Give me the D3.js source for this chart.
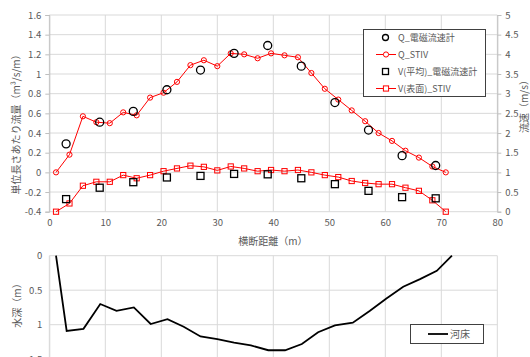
<!DOCTYPE html>
<html>
<head>
<meta charset="utf-8">
<script src="https://cdn.jsdelivr.net/npm/d3@7"></script>
<style>
  body { margin: 0; background: #fff; }
  text { font-family: "Noto Sans CJK JP", "Noto Sans", sans-serif; fill: #595959; }
</style>
</head>
<body>
<div id="chart"></div>
<script>
// measured stations (m)
const emX = [3, 9, 15, 21, 27, 33, 39, 45, 51, 57, 63, 69];
const emQ = [0.29, 0.51, 0.62, 0.84, 1.04, 1.21, 1.29, 1.08, 0.71, 0.43, 0.17, 0.07];
const emV = [0.32, 0.61, 0.75, 0.87, 0.91, 0.96, 0.95, 0.85, 0.70, 0.53, 0.37, 0.34];

// STIV stations (m)
const stivX = [1.2, 3.6, 6.0, 8.4, 10.8, 13.2, 15.6, 18.0, 20.4, 22.8, 25.2, 27.6, 30.0, 32.4, 34.8,
               37.2, 39.6, 42.0, 44.4, 46.8, 49.2, 51.6, 54.0, 56.4, 58.8, 61.2, 63.6, 66.0, 68.4, 70.8];
const stivQ = [0.00, 0.18, 0.57, 0.51, 0.50, 0.61, 0.58, 0.76, 0.81, 0.92, 1.09, 1.14, 1.08, 1.21, 1.20,
               1.16, 1.21, 1.19, 1.17, 1.01, 0.85, 0.74, 0.63, 0.52, 0.40, 0.32, 0.22, 0.15, 0.06, 0.00];
const stivV = [0.00, 0.21, 0.66, 0.76, 0.76, 0.93, 0.85, 0.93, 1.03, 1.10, 1.17, 1.14, 1.05, 1.15, 1.10,
               1.03, 1.06, 1.03, 1.06, 1.00, 0.93, 0.88, 0.78, 0.73, 0.70, 0.70, 0.61, 0.53, 0.29, 0.00];

// river bed
const bedX = [1.2, 3.1, 6.1, 9.1, 12.0, 15.1, 18.1, 21.1, 24.0, 27.0, 30.0, 33.0, 36.0, 39.1,
              42.1, 45.1, 48.0, 51.0, 54.2, 57.2, 60.2, 63.2, 66.2, 69.2, 71.9];
const bedD = [0.00, 1.09, 1.06, 0.70, 0.80, 0.75, 0.99, 0.92, 1.03, 1.17, 1.21, 1.26, 1.30, 1.37,
              1.37, 1.28, 1.11, 1.01, 0.97, 0.80, 0.62, 0.45, 0.34, 0.22, 0.00];

const xTicks = [0, 10, 20, 30, 40, 50, 60, 70, 80];
const qTicks = [-0.4, -0.2, 0, 0.2, 0.4, 0.6, 0.8, 1, 1.2, 1.4, 1.6];
const vTicks = [0, 0.5, 1, 1.5, 2, 2.5, 3, 3.5, 4, 4.5, 5];
const dTicks = [0, 0.5, 1, 1.5];

const width = 530, height = 357;
const grid = "#d9d9d9";

const svg = d3.select("#chart").append("svg")
    .attr("width", width)
    .attr("height", height);

const x = d3.scaleLinear().domain([0, 80]).range([49.3, 497.3]);
const yQ = d3.scaleLinear().domain([-0.4, 1.6]).range([211.7, 15]);
const yV = d3.scaleLinear().domain([0, 5]).range([211.7, 15]);
const yD = d3.scaleLinear().domain([0, 1.5]).range([255.7, 359.2]);

const fmt = d => String(d);

// ---------- top chart ----------
const topG = svg.append("g");

// grid
topG.selectAll(".hg").data(qTicks).enter().append("line")
    .attr("x1", x(0)).attr("x2", x(80))
    .attr("y1", d => yQ(d)).attr("y2", d => yQ(d))
    .style("stroke", grid).style("stroke-width", 1);
topG.selectAll(".vg").data(xTicks).enter().append("line")
    .attr("x1", d => x(d)).attr("x2", d => x(d))
    .attr("y1", yQ(-0.4)).attr("y2", yQ(1.6))
    .style("stroke", grid).style("stroke-width", 1);

// axes
const axL = d3.axisLeft(yQ).tickValues(qTicks).tickFormat(fmt).tickSize(4).tickPadding(4);
const axR = d3.axisRight(yV).tickValues(vTicks).tickFormat(fmt).tickSize(4).tickPadding(4);
const axB = d3.axisBottom(x).tickValues(xTicks).tickFormat(fmt).tickSize(0).tickPadding(8);

function styleAxis(g) {
    g.selectAll("path").style("stroke", "#bfbfbf");
    g.selectAll("line").style("stroke", "#bfbfbf");
    g.selectAll("text").style("font-size", "9.5px").style("fill", "#595959")
        .style("font-family", "'Noto Sans CJK JP', sans-serif");
}
topG.append("g").attr("transform", `translate(${x(0)},0)`).call(axL).call(styleAxis);
topG.append("g").attr("transform", `translate(${x(80)},0)`).call(axR).call(styleAxis);
topG.append("g").attr("transform", `translate(0,${yQ(-0.4)})`).call(axB).call(styleAxis)
    .select(".domain").remove();

// axis titles
topG.append("text")
    .attr("transform", `translate(20,122) rotate(-90)`)
    .attr("text-anchor", "middle")
    .style("font-size", "10px")
    .text("単位長さあたり流量（m³/s/m）");
topG.append("text")
    .attr("transform", `translate(528,104) rotate(-90)`)
    .attr("text-anchor", "middle")
    .style("font-size", "10px")
    .text("流速（m/s）");
topG.append("text")
    .attr("x", 273).attr("y", 245)
    .attr("text-anchor", "middle")
    .style("font-size", "10px")
    .text("横断距離（m）");

const red = "#ff0000";
const stivQPts = stivX.map((d, i) => [d, stivQ[i]]);
const stivVPts = stivX.map((d, i) => [d, stivV[i]]);

// STIV lines
topG.append("path")
    .attr("d", d3.line().x(d => x(d[0])).y(d => yQ(d[1]))(stivQPts))
    .style("fill", "none").style("stroke", red).style("stroke-width", 1);
topG.append("path")
    .attr("d", d3.line().x(d => x(d[0])).y(d => yV(d[1]))(stivVPts))
    .style("fill", "none").style("stroke", red).style("stroke-width", 1);

// STIV markers
topG.selectAll(".qs").data(stivQPts).enter().append("circle")
    .attr("cx", d => x(d[0])).attr("cy", d => yQ(d[1]))
    .attr("r", 2.6)
    .style("fill", "none").style("stroke", red).style("stroke-width", 1);
topG.selectAll(".vs").data(stivVPts).enter().append("rect")
    .attr("x", d => x(d[0]) - 2.6).attr("y", d => yV(d[1]) - 2.6)
    .attr("width", 5.2).attr("height", 5.2)
    .style("fill", "none").style("stroke", red).style("stroke-width", 1);

// EM meter markers
topG.selectAll(".qe").data(emX.map((d, i) => [d, emQ[i]])).enter().append("circle")
    .attr("cx", d => x(d[0])).attr("cy", d => yQ(d[1]))
    .attr("r", 4)
    .style("fill", "none").style("stroke", "#000").style("stroke-width", 1.3);
topG.selectAll(".ve").data(emX.map((d, i) => [d, emV[i]])).enter().append("rect")
    .attr("x", d => x(d[0]) - 3.5).attr("y", d => yV(d[1]) - 3.5)
    .attr("width", 7).attr("height", 7)
    .style("fill", "none").style("stroke", "#000").style("stroke-width", 1.3);

// legend
const leg = topG.append("g");
leg.append("rect")
    .attr("x", 363.5).attr("y", 29.5).attr("width", 122).attr("height", 67)
    .style("fill", "#fff").style("stroke", "#404040").style("stroke-width", 1);
const legItems = ["Q_電磁流速計", "Q_STIV", "V(平均)_電磁流速計", "V(表面)_STIV"];
legItems.forEach((name, i) => {
    const cy = 37.5 + i * 17;
    if (i === 1 || i === 3) {
        leg.append("line").attr("x1", 376).attr("x2", 396).attr("y1", cy).attr("y2", cy)
            .style("stroke", red).style("stroke-width", 1);
    }
    if (i === 0) {
        leg.append("circle").attr("cx", 385.5).attr("cy", cy).attr("r", 3)
            .style("fill", "none").style("stroke", "#000").style("stroke-width", 1.3);
    } else if (i === 1) {
        leg.append("circle").attr("cx", 386).attr("cy", cy).attr("r", 2.6)
            .style("fill", "#fff").style("stroke", red).style("stroke-width", 1);
    } else if (i === 2) {
        leg.append("rect").attr("x", 382.5).attr("y", cy - 3).attr("width", 6).attr("height", 6)
            .style("fill", "none").style("stroke", "#000").style("stroke-width", 1.3);
    } else {
        leg.append("rect").attr("x", 383.4).attr("y", cy - 2.6).attr("width", 5.2).attr("height", 5.2)
            .style("fill", "#fff").style("stroke", red).style("stroke-width", 1);
    }
    leg.append("text").attr("x", 398).attr("y", cy + 3.3)
        .style("font-size", "9px").text(name);
});

// ---------- bottom chart ----------
const botG = svg.append("g");

botG.selectAll(".hg").data(dTicks).enter().append("line")
    .attr("x1", x(0)).attr("x2", x(80))
    .attr("y1", d => yD(d)).attr("y2", d => yD(d))
    .style("stroke", grid).style("stroke-width", 1);
botG.selectAll(".vg").data(xTicks).enter().append("line")
    .attr("x1", d => x(d)).attr("x2", d => x(d))
    .attr("y1", yD(0)).attr("y2", yD(1.5))
    .style("stroke", grid).style("stroke-width", 1);

const axD = d3.axisLeft(yD).tickValues(dTicks).tickFormat(fmt).tickSize(0).tickPadding(7);
botG.append("g").attr("transform", `translate(${x(0)},0)`).call(axD).call(styleAxis)
    .select(".domain").style("stroke", grid);

botG.append("text")
    .attr("transform", `translate(21,303) rotate(-90)`)
    .attr("text-anchor", "middle")
    .style("font-size", "10px")
    .text("水深（m）");

botG.append("path")
    .attr("d", d3.line().x(d => x(d[0])).y(d => yD(d[1]))(bedX.map((d, i) => [d, bedD[i]])))
    .style("fill", "none").style("stroke", "#000").style("stroke-width", 1.8);

// bottom legend
botG.append("rect")
    .attr("x", 410.5).attr("y", 324.5).attr("width", 73).attr("height", 19)
    .style("fill", "#fff").style("stroke", "#404040").style("stroke-width", 1);
botG.append("line").attr("x1", 428).attr("x2", 448).attr("y1", 334).attr("y2", 334)
    .style("stroke", "#000").style("stroke-width", 1.8);
botG.append("text").attr("x", 450).attr("y", 337.5)
    .style("font-size", "10px").text("河床");
</script>
</body>
</html>
